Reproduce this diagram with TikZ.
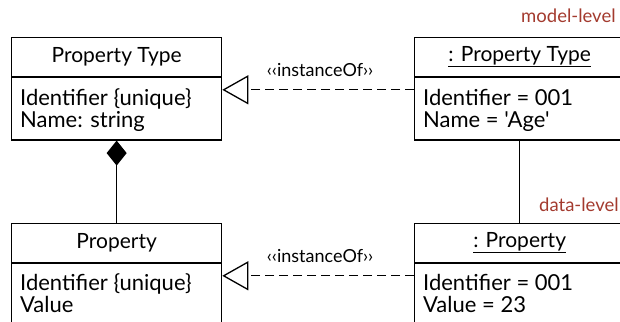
\documentclass[tikz,border=0pt]{standalone}
\usepackage{fontspec}
\setmainfont{Lato}[Ligatures=TeXOff]
\usetikzlibrary{arrows.meta,calc}
\definecolor{lvl}{HTML}{A33A2E}
\begin{document}
\begin{tikzpicture}[x=1pt,y=-1pt,
  lw/.style={line width=1.3pt},
  hdr/.style={draw,lw,rectangle,minimum width=210pt,minimum height=38.5pt,inner sep=0pt,anchor=north west,font=\fontsize{21}{24}\selectfont},
  bodybox/.style={draw,lw,rectangle,minimum width=210pt,minimum height=62.5pt,inner sep=0pt,anchor=north west},
  attr/.style={anchor=base west,inner sep=0pt,font=\fontsize{22}{24}\selectfont},
  inst/.style={lw,dash pattern=on 9pt off 5pt,-{Triangle[open,length=26pt,width=29pt,line width=1.3pt]}},
  stereo/.style={anchor=base,inner sep=0pt,font=\fontsize{18}{20}\selectfont},
  lvltxt/.style={text=lvl,anchor=base west,inner sep=0pt,font=\fontsize{18.5}{20}\selectfont}]
\useasboundingbox (0,0) rectangle (620,321);
\clip (0,0) rectangle (620,321);
% top-left class
\node[hdr] (pt) at (11,37) {Property Type};
\node[bodybox] (ptb) at (pt.south west) {};
\node[attr] (pt1) at ($(ptb.north west)+(9,29)$) {Identifier \{unique\}};
\node[attr] (pt2) at ($(pt1.base west)+(0,22)$) {Name: string};
% top-right object
\node[hdr] (ipt) at (414,37) {\underline{: Property Type}};
\node[bodybox] (iptb) at (ipt.south west) {};
\node[attr] (ipt1) at ($(iptb.north west)+(9,29)$) {Identifier = 001};
\node[attr] (ipt2) at ($(ipt1.base west)+(0,22)$) {Name = 'Age'};
% bottom-left class
\node[hdr] (p) at (11,223) {Property};
\node[bodybox] (pb) at (p.south west) {};
\node[attr] (p1) at ($(pb.north west)+(9,28)$) {Identifier \{unique\}};
\node[attr] (p2) at ($(p1.base west)+(0,22)$) {Value};
% bottom-right object
\node[hdr] (ip) at (414,223) {\underline{: Property}};
\node[bodybox] (ipb) at (ip.south west) {};
\node[attr] (ip1) at ($(ipb.north west)+(9,28)$) {Identifier = 001};
\node[attr] (ip2) at ($(ip1.base west)+(0,22)$) {Value = 23};
% connectors
\coordinate (c1) at ($(iptb.north west)+(0,13)$);
\coordinate (c2) at ($(ipb.north west)+(0,13)$);
\draw[inst] (c1) -- (c1 -| ptb.east) node[stereo,pos=0.49,yshift=13pt] (s1) {‹‹instanceOf››};
\draw[inst] (c2) -- (c2 -| pb.east) node[stereo,pos=0.49,yshift=13pt] (s2) {‹‹instanceOf››};
\draw[lw,-{Diamond[length=25pt,width=20pt]}] (p.north) -- (ptb.south);
\draw[lw] (iptb.south) -- (ip.north);
% level labels
\node[lvltxt] (ml) at (521,23) {model-level};
\node[lvltxt] (dl) at (539,211) {data-level};
\end{tikzpicture}
\end{document}
